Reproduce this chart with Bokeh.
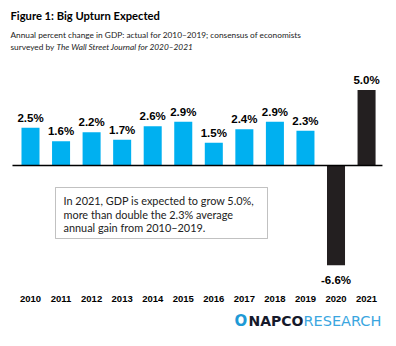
from bokeh.plotting import figure
from bokeh.models import ColumnDataSource, Range1d, Label, BoxAnnotation
from bokeh.core.properties import value
from bokeh.embed import file_html
from bokeh.resources import INLINE

# ---- data ----
years = ["2010", "2011", "2012", "2013", "2014", "2015", "2016", "2017", "2018", "2019", "2020", "2021"]
gdp = [2.5, 1.6, 2.2, 1.7, 2.6, 2.9, 1.5, 2.4, 2.9, 2.3, -6.6, 5.0]
kind = ["actual"] * 10 + ["forecast"] * 2
value_labels = ["2.5%", "1.6%", "2.2%", "1.7%", "2.6%", "2.9%", "1.5%", "2.4%", "2.9%", "2.3%", "-6.6%", "5.0%"]

title_text = "Figure 1: Big Upturn Expected"
subtitle_1 = "Annual percent change in GDP: actual for 2010\u20132019;  consensus of economists"
subtitle_2a = "surveyed by"
subtitle_2b = "The Wall Street Journal for 2020\u20132021"
note_lines = ["In 2021, GDP is expected to grow 5.0%,",
              "more than double the 2.3% average",
              "annual gain from 2010\u20132019."]

W, H = 396, 346
BLUE = "#00B0F0"
DARK = "#231F20"
colors = [BLUE if k == "actual" else DARK for k in kind]

xs = list(range(len(years)))
src = ColumnDataSource(dict(x=xs, year=years, gdp=gdp, color=colors, lab=value_labels))
pos = ColumnDataSource(dict(x=[x for x, v in zip(xs, gdp) if v >= 0],
                            y=[v for v in gdp if v >= 0],
                            lab=[l for l, v in zip(value_labels, gdp) if v >= 0]))
neg = ColumnDataSource(dict(x=[x for x, v in zip(xs, gdp) if v < 0],
                            y=[v for v in gdp if v < 0],
                            lab=[l for l, v in zip(value_labels, gdp) if v < 0]))

p = figure(width=W, height=H, x_range=Range1d(-0.982, 11.98), y_range=Range1d(-11.99, 10.93),
           output_backend="svg", toolbar_location=None, min_border=0,
           x_axis_location=None, y_axis_location=None)
p.grid.visible = False
p.outline_line_color = None
p.background_fill_color = "white"
p.border_fill_color = "white"

p.vbar(x="x", top="gdp", bottom=0, width=0.59, fill_color="color", line_color=None, source=src)
p.segment(x0=[-0.59], y0=[0], x1=[len(years) - 1 + 0.52], y1=[0], line_color="black", line_width=1.5)

lab_font = value("Liberation Sans")
p.text(x="x", y="y", text="lab", source=pos, text_font=lab_font, text_font_style="bold",
       text_font_size="11.5px", text_align="center", text_baseline="bottom", y_offset=-4, text_color="black")
p.text(x="x", y="y", text="lab", source=neg, text_font=lab_font, text_font_style="bold",
       text_font_size="11.5px", text_align="center", text_baseline="top", y_offset=9, text_color="black")
p.text(x="x", y=min(gdp), text="year", source=src, text_font=lab_font, text_font_style="bold",
       text_font_size="9.5px", text_align="center", text_baseline="middle", y_offset=34, text_color="black")

FT = "Lato"
def lab(x, y, t, size, style="normal", color="black", font=FT):
    p.add_layout(Label(x=x, y=H - y, x_units="screen", y_units="screen", text=t,
                       text_font=font, text_font_size=size, text_font_style=style,
                       text_color=color, text_baseline="middle", text_align="left"))

lab(10, 15, title_text, "11.2px", "bold")
lab(10, 34, subtitle_1, "8.3px", color="#222222")
lab(10, 46, subtitle_2a, "8.3px", color="#222222")
lab(56, 46, subtitle_2b, "8.3px", "italic", color="#222222")

p.add_layout(BoxAnnotation(left=55, right=267, top=H - 187, bottom=H - 238,
                           left_units="screen", right_units="screen", top_units="screen", bottom_units="screen",
                           fill_color=None, fill_alpha=0, line_color="#333333", line_width=1))
for i, t in enumerate(note_lines):
    lab(63, 200 + i * 13.5, t, "10.9px", color="#222222")

lab(234, 320, "O", "15px", "bold", "#1E9AD6", "DejaVu Sans")
lab(248, 320, "NAPCO", "14px", "bold", "#15192B", "DejaVu Sans")
lab(303, 320, "RESEARCH", "14.5px", "normal", "#3AA6DF", "DejaVu Sans")

open("out.html", "w").write(file_html(p, INLINE))
